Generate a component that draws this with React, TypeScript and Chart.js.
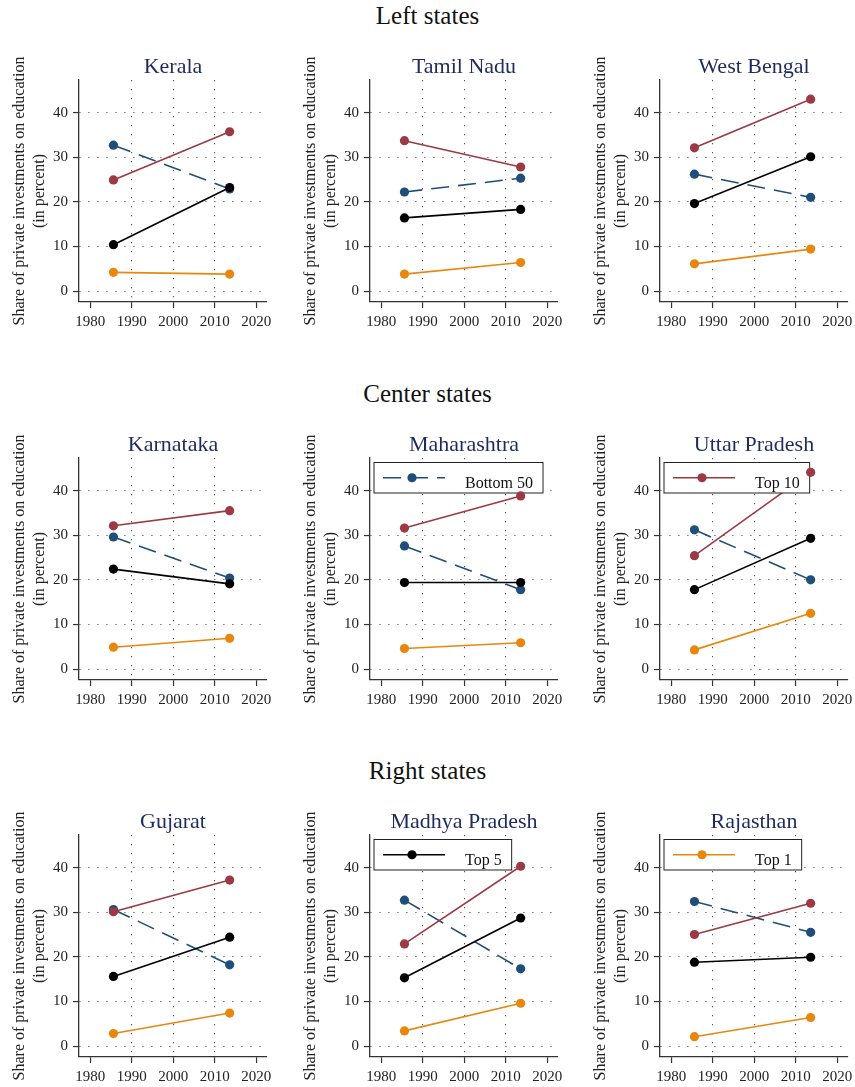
import React, { useEffect, useRef } from 'react';
import { Chart, registerables } from 'chart.js';

Chart.register(...registerables);

const FONT = '"Liberation Serif", "Times New Roman", serif';

// Regions and states, row by row
const groups = ['Left states', 'Center states', 'Right states'];
const states = [
  'Kerala', 'Tamil Nadu', 'West Bengal',
  'Karnataka', 'Maharashtra', 'Uttar Pradesh',
  'Gujarat', 'Madhya Pradesh', 'Rajasthan',
];

// Survey years (x positions of the two observations)
const years = [1985.6, 2013.6];

// Share of private investments on education (%), per state: [first year, second year]
const bottom50 = [
  [32.7, 22.9], [22.2, 25.3], [26.2, 21.0],
  [29.6, 20.4], [27.6, 17.8], [31.2, 20.0],
  [30.6, 18.2], [32.7, 17.3], [32.4, 25.5],
];
const top10 = [
  [24.9, 35.7], [33.7, 27.8], [32.1, 43.0],
  [32.1, 35.5], [31.6, 38.8], [25.4, 44.1],
  [30.1, 37.2], [22.9, 40.3], [25.0, 32.0],
];
const top5 = [
  [10.4, 23.2], [16.4, 18.3], [19.6, 30.1],
  [22.4, 19.1], [19.4, 19.4], [17.8, 29.3],
  [15.6, 24.4], [15.3, 28.7], [18.8, 19.9],
];
const top1 = [
  [4.2, 3.8], [3.8, 6.4], [6.1, 9.4],
  [4.9, 6.9], [4.6, 5.9], [4.3, 12.5],
  [2.8, 7.4], [3.4, 9.6], [2.1, 6.4],
];

const seriesNames = ['Bottom 50', 'Top 10', 'Top 5', 'Top 1'];
const seriesColors = ['#1f4e79', '#9b3a44', '#000000', '#e8870e'];
const seriesDash = [[18, 9], [], [], []];

// Which series each panel shows in its inset legend (-1 = none)
const legendSeries = [-1, -1, -1, -1, 0, 1, -1, 2, 3];

const xTicks = [1980, 1990, 2000, 2010, 2020];
const yTicks = [0, 10, 20, 30, 40];
const yTitle = ['Share of private investments on education', '(in percent)'];

// Grid geometry
const COL_X = [0, 291, 581];
const ROW_TOP = [80, 458, 835];
const SECTION_TOP = [3, 381, 758];
const CANVAS_W = 285;
const CANVAS_H = 300;
const PAD_TOP = 30;
const AXIS_W = 79;
const XAXIS_H = 48;
const POINT_R = 4.6;
const LINE_W = 1.6;
const GRID_COLOR = '#555555';

function drawLegend(chart: any, s: number) {
  const ctx = chart.ctx;
  const a = chart.chartArea;
  ctx.save();
  ctx.font = `16px ${FONT}`;
  const name = seriesNames[s];
  const tw = ctx.measureText(name).width;
  const bx = a.left + 4;
  const by = a.top + 4.5;
  const bw = 91 + tw + 10;
  const bh = 30.5;
  ctx.fillStyle = '#ffffff';
  ctx.fillRect(bx, by, bw, bh);
  ctx.strokeStyle = '#222222';
  ctx.lineWidth = 1;
  ctx.strokeRect(bx, by, bw, bh);
  const ly = by + 15.25;
  ctx.strokeStyle = seriesColors[s];
  ctx.lineWidth = LINE_W;
  ctx.setLineDash(seriesDash[s]);
  ctx.beginPath();
  ctx.moveTo(bx + 9, ly);
  ctx.lineTo(bx + 71, ly);
  ctx.stroke();
  ctx.setLineDash([]);
  ctx.fillStyle = seriesColors[s];
  ctx.beginPath();
  ctx.arc(bx + 38, ly, POINT_R, 0, Math.PI * 2);
  ctx.fill();
  ctx.fillStyle = '#111111';
  ctx.textAlign = 'left';
  ctx.textBaseline = 'alphabetic';
  ctx.fillText(name, bx + 91, by + 25.5);
  ctx.restore();
}

const panelDecor = {
  id: 'panelDecor',
  beforeDatasetsDraw(chart: any) {
    chart.$legendDone = false;
  },
  beforeDatasetDraw(chart: any, args: any, opts: any) {
    const ds = chart.data.datasets[args.index];
    if (ds.marker && !chart.$legendDone) {
      chart.$legendDone = true;
      if (opts.legend >= 0) drawLegend(chart, opts.legend);
    }
  },
  afterDraw(chart: any, _args: any, opts: any) {
    const ctx = chart.ctx;
    const a = chart.chartArea;
    ctx.save();
    ctx.font = `22px ${FONT}`;
    ctx.fillStyle = '#1e2b5c';
    ctx.textAlign = 'center';
    ctx.textBaseline = 'alphabetic';
    ctx.fillText(opts.title, (a.left + a.right) / 2, a.top - 7.5);
    ctx.restore();

    ctx.save();
    ctx.translate(23.5, (a.top + a.bottom) / 2);
    ctx.rotate(-Math.PI / 2);
    ctx.font = `16px ${FONT}`;
    ctx.fillStyle = '#222222';
    ctx.textAlign = 'center';
    ctx.textBaseline = 'alphabetic';
    ctx.fillText(yTitle[0], 0, 0);
    ctx.fillText(yTitle[1], 0, 20);
    ctx.restore();
  },
};

function Panel({ idx }: { idx: number }) {
  const ref = useRef<HTMLCanvasElement | null>(null);

  useEffect(() => {
    const canvas = ref.current;
    if (!canvas) return;
    const values = [bottom50[idx], top10[idx], top5[idx], top1[idx]];
    const datasets: any[] = [];
    values.forEach((vals, s) => {
      const pts = years.map((yr, i) => ({ x: yr, y: vals[i] }));
      datasets.push({
        label: seriesNames[s],
        data: pts,
        showLine: true,
        borderColor: seriesColors[s],
        borderWidth: LINE_W,
        borderDash: seriesDash[s],
        pointRadius: 0,
        fill: false,
        order: 20 - s,
      });
      datasets.push({
        label: seriesNames[s],
        data: pts,
        showLine: false,
        marker: true,
        pointRadius: POINT_R,
        pointBackgroundColor: seriesColors[s],
        pointBorderWidth: 0,
        order: 10 - s,
      });
    });

    const chart = new Chart(canvas, {
      type: 'scatter',
      data: { datasets },
      plugins: [panelDecor],
      options: {
        animation: false,
        responsive: false,
        events: [],
        layout: { padding: { top: PAD_TOP, right: CANVAS_W - AXIS_W - 188, left: 0, bottom: 0 } },
        plugins: {
          legend: { display: false },
          tooltip: { enabled: false },
          panelDecor: { title: states[idx], legend: legendSeries[idx] },
        } as any,
        scales: {
          x: {
            type: 'linear',
            min: 1977.3,
            max: 2022.6,
            afterBuildTicks: (s: any) => {
              s.ticks = xTicks.map((v) => ({ value: v }));
            },
            afterFit: (s: any) => {
              s.height = XAXIS_H;
            },
            grid: {
              color: (c: any) =>
                c.tick && (c.tick.value === xTicks[0] || c.tick.value === xTicks[xTicks.length - 1])
                  ? 'rgba(0,0,0,0)'
                  : GRID_COLOR,
              lineWidth: 1.1,
              drawTicks: true,
              tickLength: 6,
              tickColor: '#333333',
              tickWidth: 1.2,
              tickBorderDash: [],
            },
            border: { display: true, color: '#333333', width: 1.3, dash: [1.2, 7.8] },
            ticks: {
              font: { family: FONT, size: 15 },
              color: '#222222',
              padding: 5,
              maxRotation: 0,
              autoSkip: false,
              callback: (v: any) => String(v),
            },
          },
          y: {
            type: 'linear',
            min: -2.45,
            max: 47.3,
            afterBuildTicks: (s: any) => {
              s.ticks = yTicks.map((v) => ({ value: v }));
            },
            afterFit: (s: any) => {
              s.width = AXIS_W;
            },
            grid: {
              color: GRID_COLOR,
              lineWidth: 1.1,
              drawTicks: true,
              tickLength: 6,
              tickColor: '#333333',
              tickWidth: 1.2,
              tickBorderDash: [],
            },
            border: { display: true, color: '#333333', width: 1.3, dash: [1.2, 7.8] },
            ticks: {
              font: { family: FONT, size: 15 },
              color: '#222222',
              padding: 5,
              autoSkip: false,
              callback: (v: any) => String(v),
            },
          },
        },
      } as any,
    });
    return () => chart.destroy();
  }, [idx]);

  const col = idx % 3;
  const row = Math.floor(idx / 3);
  return (
    <canvas
      ref={ref}
      width={CANVAS_W}
      height={CANVAS_H}
      style={{
        position: 'absolute',
        left: COL_X[col],
        top: ROW_TOP[row] - PAD_TOP,
        width: CANVAS_W,
        height: CANVAS_H,
        display: 'block',
      }}
    />
  );
}

export default function App() {
  return (
    <div
      style={{
        position: 'absolute',
        left: 0,
        top: 0,
        width: 855,
        height: 1087,
        overflow: 'hidden',
        background: '#ffffff',
      }}
    >
      {groups.map((g, r) => (
        <div
          key={g}
          style={{
            position: 'absolute',
            left: 0,
            top: SECTION_TOP[r],
            width: 855,
            textAlign: 'center',
            fontFamily: FONT,
            fontSize: 25,
            lineHeight: '25px',
            color: '#111111',
          }}
        >
          {g}
        </div>
      ))}
      {states.map((s, i) => (
        <Panel key={s} idx={i} />
      ))}
    </div>
  );
}
